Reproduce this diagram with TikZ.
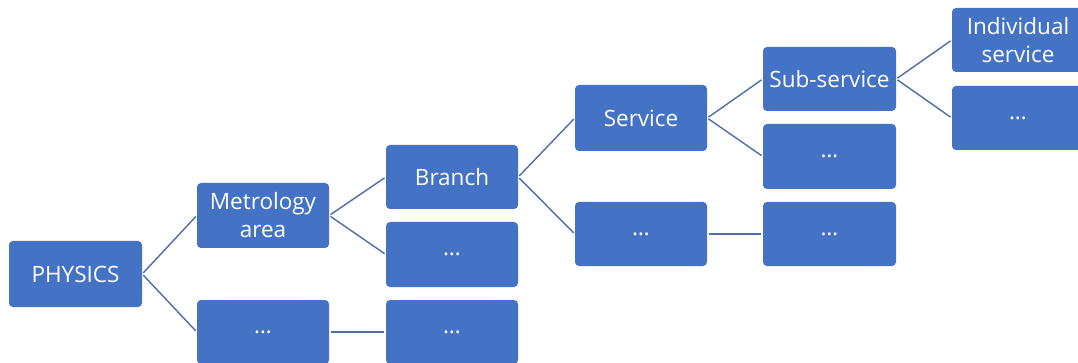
\documentclass[tikz,border=0pt]{standalone}
\usepackage{fontspec}
\setmainfont{Open Sans}
\definecolor{boxblue}{HTML}{4472C4}
\definecolor{linkblue}{HTML}{4F6EA6}
\begin{document}
\begin{tikzpicture}[x=1pt,y=-1pt,
  box/.style={fill=boxblue,draw=none,rounded corners=4pt,text=white,
    minimum width=132pt,minimum height=64pt,inner sep=0pt,align=center,
    font=\fontsize{22.5}{28}\selectfont},
  link/.style={draw=linkblue,line width=1.4pt,shorten <=1.5pt,shorten >=1.5pt}]
\useasboundingbox[fill=white] (0,0) rectangle (1078,363);
\node[box,minimum width=133pt,minimum height=66pt] (phys) at (75.5,274) {PHYSICS};
\node[box,minimum height=65pt] (met) at (263,215.5) {Metrology\\area};
\node[box] (d1) at (263,332) {…};
\node[box] (branch) at (452,177) {Branch};
\node[box,minimum height=65pt] (d2) at (452,254.5) {…};
\node[box] (d3) at (452,332) {…};
\node[box,minimum height=66pt] (serv) at (641,118) {Service};
\node[box] (d4) at (641,234) {…};
\node[box,minimum width=133pt] (sub) at (829.5,79) {Sub-service};
\node[box,minimum width=133pt,minimum height=65pt] (d5) at (829.5,156.5) {…};
\node[box,minimum width=133pt] (d6) at (829.5,234) {…};
\node[box] (ind) at (1018,40) {Individual\\service};
\node[box] (d7) at (1018,118) {…};
\draw[link] (phys.east) -- (met.west);
\draw[link] (phys.east) -- (d1.west);
\draw[link] (met.east) -- (branch.west);
\draw[link] (met.east) -- (d2.west);
\draw[link] (d1.east) -- (d3.west);
\draw[link] (branch.east) -- (serv.west);
\draw[link] (branch.east) -- (d4.west);
\draw[link] (serv.east) -- (sub.west);
\draw[link] (serv.east) -- (d5.west);
\draw[link] (d4.east) -- (d6.west);
\draw[link] (sub.east) -- (ind.west);
\draw[link] (sub.east) -- (d7.west);
\end{tikzpicture}
\end{document}
